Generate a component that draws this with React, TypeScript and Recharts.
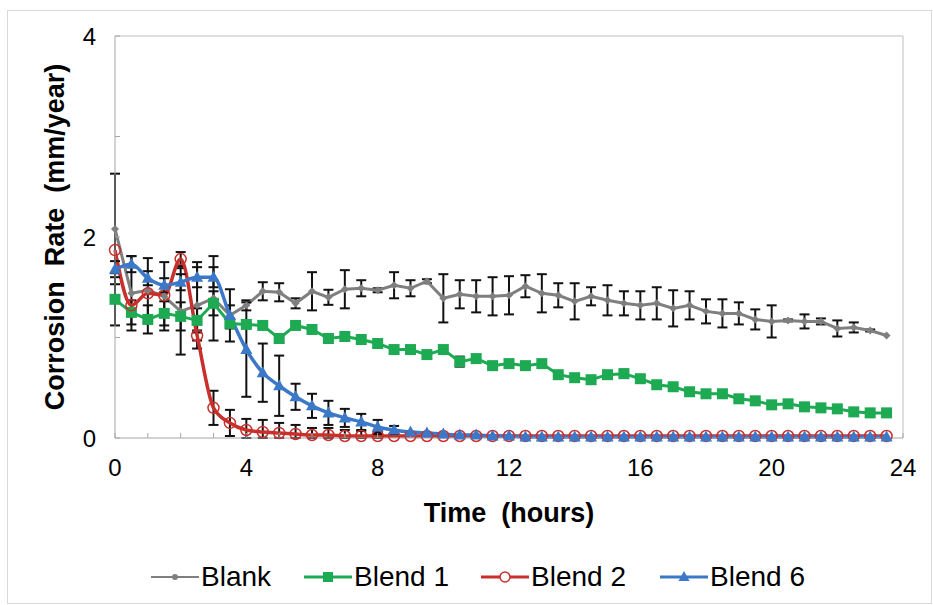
import { LineChart, Line, XAxis, YAxis, ErrorBar, ReferenceLine } from "recharts";

// sampling times (hours)
const hours = [
  0, 0.5, 1, 1.5, 2, 2.5, 3, 3.5, 4, 4.5, 5, 5.5, 6, 6.5, 7, 7.5, 8, 8.5, 9, 9.5,
  10, 10.5, 11, 11.5, 12, 12.5, 13, 13.5, 14, 14.5, 15, 15.5, 16, 16.5, 17, 17.5,
  18, 18.5, 19, 19.5, 20, 20.5, 21, 21.5, 22, 22.5, 23, 23.5,
];

const blank = [
  2.08, 1.44, 1.47, 1.41, 1.26, 1.32, 1.39, 1.22, 1.32, 1.46, 1.45, 1.34, 1.46, 1.4,
  1.48, 1.49, 1.47, 1.52, 1.49, 1.56, 1.39, 1.43, 1.41, 1.41, 1.42, 1.51, 1.44, 1.42,
  1.36, 1.41, 1.37, 1.34, 1.32, 1.34, 1.29, 1.32, 1.26, 1.24, 1.24, 1.18, 1.16, 1.17,
  1.16, 1.16, 1.09, 1.1, 1.07, 1.02,
];
const blankErr = [
  0.55, 0.37, 0.32, 0.34, 0.43, 0.43, 0.42, 0.26, 0.05, 0.09, 0.09, 0.05, 0.19, 0.075,
  0.19, 0.08, 0.02, 0.13, 0.08, 0.02, 0.24, 0.14, 0.16, 0.19, 0.19, 0.11, 0.19, 0.12,
  0.18, 0.09, 0.15, 0.12, 0.14, 0.16, 0.18, 0.14, 0.12, 0.14, 0.11, 0.1, 0.16, 0.01,
  0.07, 0.03, 0.08, 0.05, 0.01, 0,
];

const blend1 = [
  1.38, 1.25, 1.18, 1.24, 1.21, 1.17, 1.34, 1.14, 1.13, 1.12, 0.99, 1.12, 1.08, 0.99,
  1.01, 0.98, 0.94, 0.88, 0.88, 0.83, 0.88, 0.76, 0.79, 0.72, 0.74, 0.72, 0.74, 0.63,
  0.6, 0.58, 0.63, 0.64, 0.59, 0.53, 0.51, 0.46, 0.44, 0.44, 0.39, 0.37, 0.33, 0.34,
  0.31, 0.3, 0.29, 0.26, 0.25, 0.25,
];
const blend1Err = [
  0.26, 0.12, 0.14, 0.12, 0.14, 0.12, 0.12, 0.05, 0.03, 0, 0.045, 0, 0.01, 0,
  0, 0, 0, 0, 0, 0, 0, 0.05, 0, 0, 0, 0, 0, 0,
  0, 0, 0, 0.04, 0.03, 0, 0, 0, 0, 0, 0, 0, 0, 0,
  0, 0, 0, 0, 0, 0,
];

const blend2 = [
  1.87, 1.32, 1.44, 1.42, 1.78, 1.02, 0.3, 0.15, 0.08, 0.06, 0.05, 0.04, 0.03, 0.03,
  0.02, 0.02, 0.02, 0.02, 0.02, 0.02, 0.02, 0.02, 0.02, 0.02, 0.02, 0.02, 0.02, 0.02,
  0.02, 0.02, 0.02, 0.02, 0.02, 0.02, 0.02, 0.02, 0.02, 0.02, 0.02, 0.02, 0.02, 0.02,
  0.02, 0.02, 0.02, 0.02, 0.02, 0.02,
];
const blend2Err = [
  0, 0, 0, 0, 0.07, 0.05, 0.17, 0.13, 0.11, 0.12, 0.1, 0.09, 0.07, 0.07,
  0.06, 0.05, 0.04, 0, 0, 0, 0, 0, 0, 0, 0, 0, 0, 0,
  0, 0, 0, 0, 0, 0, 0, 0, 0, 0, 0, 0, 0, 0,
  0, 0, 0, 0, 0, 0,
];

const blend6 = [
  1.68, 1.73, 1.59, 1.52, 1.55, 1.6, 1.6, 1.22, 0.88, 0.65, 0.52, 0.41, 0.32, 0.25,
  0.2, 0.16, 0.11, 0.08, 0.06, 0.05, 0.04, 0.03, 0.03, 0.02, 0.02, 0.01, 0.01, 0.01,
  0.01, 0.01, 0.01, 0.01, 0.01, 0.01, 0.01, 0.01, 0.01, 0.01, 0.01, 0.01, 0.01, 0.01,
  0.01, 0.01, 0.01, 0.01, 0.01, 0.01,
];
const blend6Err = [
  0.08, 0.08, 0.07, 0.07, 0.08, 0.1, 0.1, 0.1, 0.47, 0.29, 0.3, 0.13, 0.12, 0.12,
  0.09, 0.08, 0.07, 0.04, 0, 0, 0, 0, 0, 0, 0, 0, 0, 0,
  0, 0, 0, 0, 0, 0, 0, 0, 0, 0, 0, 0, 0, 0,
  0, 0, 0, 0, 0, 0,
];

const xTicks = [0, 1, 2, 3, 4, 5, 6, 7, 8, 9, 10, 11, 12, 13, 14, 15, 16, 17, 18, 19, 20, 21, 22, 23, 24];
const yTicks = [0, 1, 2, 3, 4];

const GREY = "#7f7f7f";
const GREEN = "#1daa52";
const RED = "#c8302c";
const BLUE = "#3b78c8";
const FONT = "'Liberation Sans', Arial, sans-serif";

// error bars stop at the axis floor like the original
const eb = (v: number, e: number) => (e ? [Math.min(e, v), e] : null);

const data = hours.map((t, i) => ({
  t,
  blank: blank[i],
  blankErr: eb(blank[i], blankErr[i]),
  blend1: blend1[i],
  blend1Err: eb(blend1[i], blend1Err[i]),
  blend2: blend2[i],
  blend2Err: eb(blend2[i], blend2Err[i]),
  blend6: blend6[i],
  blend6Err: eb(blend6[i], blend6Err[i]),
}));

const diamond = (p: any) => {
  const { cx, cy, index } = p;
  return (
    <path
      key={"b" + index}
      d={`M${cx},${cy - 4}L${cx + 4},${cy}L${cx},${cy + 4}L${cx - 4},${cy}Z`}
      fill={GREY}
    />
  );
};
const square = (p: any) => {
  const { cx, cy, index } = p;
  return <rect key={"s" + index} x={cx - 5.5} y={cy - 5.5} width={11} height={11} fill={GREEN} />;
};
const ring = (p: any) => {
  const { cx, cy, index } = p;
  return <circle key={"c" + index} cx={cx} cy={cy} r={5.5} fill="none" stroke={RED} strokeWidth={1.5} />;
};
const triangle = (p: any) => {
  const { cx, cy, index } = p;
  return (
    <path
      key={"t" + index}
      d={`M${cx},${cy - 6.5}L${cx + 6},${cy + 4.5}L${cx - 6},${cy + 4.5}Z`}
      fill={BLUE}
    />
  );
};

const legendItems = [
  { name: "Blank", color: GREY, mark: "diamond" },
  { name: "Blend 1", color: GREEN, mark: "square" },
  { name: "Blend 2", color: RED, mark: "ring" },
  { name: "Blend 6", color: BLUE, mark: "triangle" },
];
// left edge of each legend entry, px
const legendLeft = [151, 304, 481, 660];

function LegendIcon({ color, mark }: { color: string; mark: string }) {
  return (
    <svg width={48} height={20}>
      <line x1={0} y1={10} x2={48} y2={10} stroke={color} strokeWidth={mark === "diamond" ? 2 : 3} />
      {mark === "diamond" && <circle cx={24} cy={10} r={3} fill={color} />}
      {mark === "square" && <rect x={19} y={5} width={10} height={10} fill={color} />}
      {mark === "ring" && <circle cx={24} cy={10} r={5} fill="#fff" stroke={color} strokeWidth={1.5} />}
      {mark === "triangle" && <path d="M24,4L29.5,14L18.5,14Z" fill={color} />}
    </svg>
  );
}

export default function App() {
  const tickStyle = { fontSize: 24, fill: "#000", fontFamily: FONT };
  const titleStyle = { fontSize: 27, fontWeight: "bold", fill: "#000", fontFamily: FONT };
  return (
    <div style={{ position: "absolute", left: 0, top: 0, width: 933, height: 605, background: "#fff" }}>
      <div
        style={{
          position: "absolute",
          left: 7,
          top: 10,
          width: 923,
          height: 592,
          border: "1px solid #d9d9d9",
        }}
      />
      <div style={{ position: "absolute", left: 0, top: 0 }}>
        <LineChart width={933} height={605} data={data} margin={{ top: 36, right: 30, bottom: 77, left: 0 }}>
          <XAxis
            dataKey="t"
            type="number"
            domain={[0, 24]}
            ticks={xTicks}
            interval={0}
            tickFormatter={(v: number) => (v % 4 === 0 ? String(v) : "")}
            tick={tickStyle}
            tickSize={-5}
            tickMargin={26}
            stroke="#a6a6a6"
            height={90}
            label={{
              value: "Time\u00a0\u00a0(hours)",
              position: "insideBottom",
              offset: 6,
              style: titleStyle,
            }}
          />
          <YAxis
            type="number"
            domain={[0, 4]}
            ticks={yTicks}
            interval={0}
            tickFormatter={(v: number) => (v % 2 === 0 ? String(v) : "")}
            tick={tickStyle}
            tickSize={-5}
            tickMargin={24}
            stroke="#a6a6a6"
            width={115}
            label={{
              value: "Corrosion\u00a0\u00a0Rate\u00a0 (mm/year)",
              angle: -90,
              position: "center",
              dx: -3,
              style: titleStyle,
            }}
          />
          <ReferenceLine y={4} stroke="#bfbfbf" />
          <ReferenceLine x={24} stroke="#bfbfbf" />
          <Line
            dataKey="blank"
            type="linear"
            stroke={GREY}
            strokeWidth={3}
            dot={diamond}
            activeDot={false}
            isAnimationActive={false}
          >
            <ErrorBar dataKey="blankErr" direction="y" width={5} stroke="#111" strokeWidth={2} isAnimationActive={false} />
          </Line>
          <Line
            dataKey="blend1"
            type="linear"
            stroke={GREEN}
            strokeWidth={3}
            dot={square}
            activeDot={false}
            isAnimationActive={false}
          >
            <ErrorBar dataKey="blend1Err" direction="y" width={5} stroke="#111" strokeWidth={2} isAnimationActive={false} />
          </Line>
          <Line
            dataKey="blend2"
            type="monotone"
            stroke={RED}
            strokeWidth={3.5}
            dot={ring}
            activeDot={false}
            isAnimationActive={false}
          >
            <ErrorBar dataKey="blend2Err" direction="y" width={5} stroke="#111" strokeWidth={2} isAnimationActive={false} />
          </Line>
          <Line
            dataKey="blend6"
            type="monotone"
            stroke={BLUE}
            strokeWidth={3.5}
            dot={triangle}
            activeDot={false}
            isAnimationActive={false}
          >
            <ErrorBar dataKey="blend6Err" direction="y" width={5} stroke="#111" strokeWidth={2} isAnimationActive={false} />
          </Line>
        </LineChart>
      </div>
      {legendItems.map((it, i) => (
        <div
          key={it.name}
          style={{
            position: "absolute",
            left: legendLeft[i],
            top: 561,
            display: "flex",
            alignItems: "center",
            gap: 2,
            fontFamily: FONT,
            fontSize: 28,
            color: "#000",
            whiteSpace: "nowrap",
          }}
        >
          <LegendIcon color={it.color} mark={it.mark} />
          <span>{it.name}</span>
        </div>
      ))}
    </div>
  );
}
